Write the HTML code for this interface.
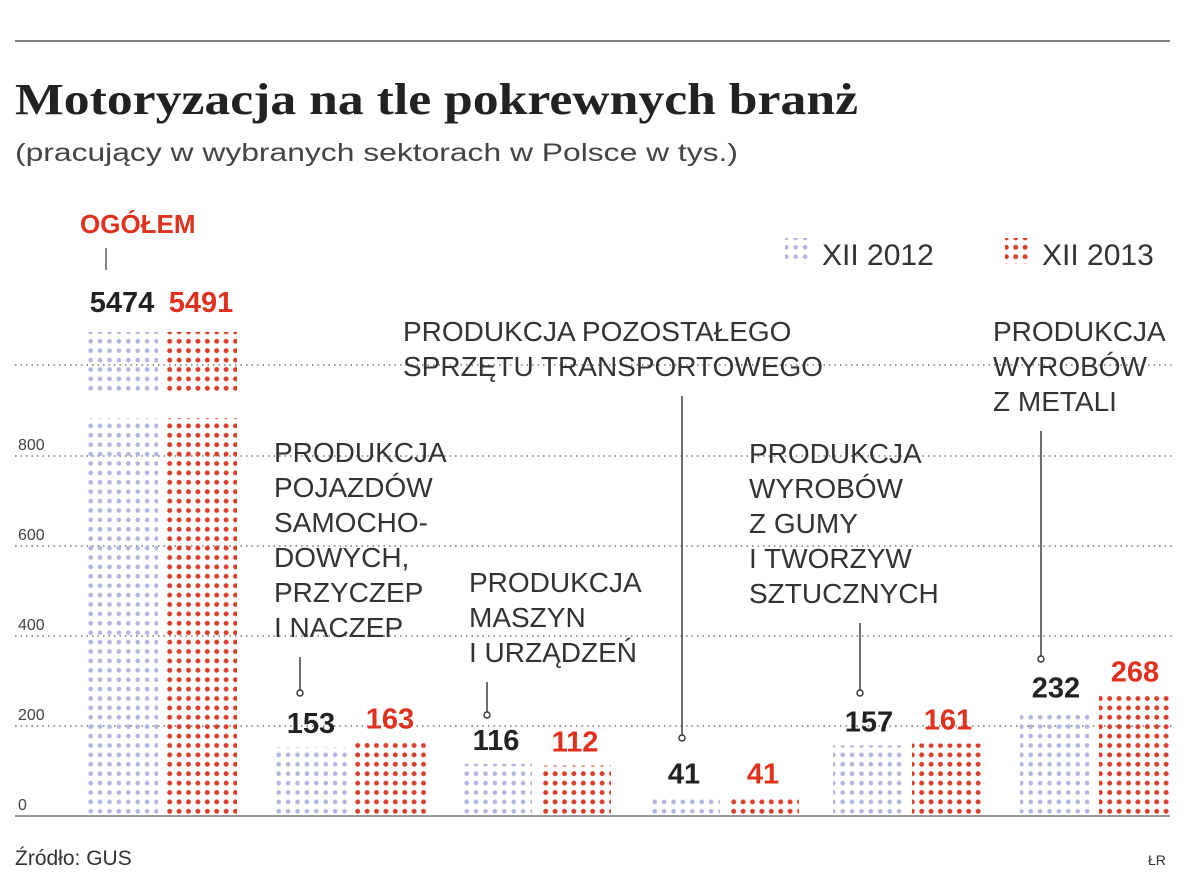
<!DOCTYPE html>
<html><head><meta charset="utf-8"><style>
body{margin:0;background:#fff;width:1200px;height:884px;overflow:hidden;font-family:"Liberation Sans",sans-serif;}
</style></head><body>
<svg width="1200" height="884" xmlns="http://www.w3.org/2000/svg" font-family="Liberation Sans, sans-serif">
<defs>
<pattern id="pb" width="9.4" height="9.4" patternUnits="userSpaceOnUse" x="86" y="816"><circle cx="4.7" cy="4.7" r="2.3" fill="#b0b6dc"/></pattern>
<pattern id="pr" width="9.4" height="9.4" patternUnits="userSpaceOnUse" x="165" y="816"><circle cx="4.7" cy="4.7" r="2.5" fill="#d9402c"/></pattern>
</defs>
<line x1="15" y1="41" x2="1170" y2="41" stroke="#555" stroke-width="1.5"/>
<text x="15" y="114" font-family="Liberation Serif, serif" font-weight="bold" font-size="44" fill="#222" textLength="843" lengthAdjust="spacingAndGlyphs">Motoryzacja na tle pokrewnych branż</text>
<text x="15" y="161" font-size="25" fill="#444" textLength="723" lengthAdjust="spacingAndGlyphs">(pracujący w wybranych sektorach w Polsce w tys.)</text>
<g>
<rect x="785" y="238" width="26" height="26" fill="url(#pb)"/>
<text x="822" y="265" font-size="30" fill="#333">XII 2012</text>
<rect x="1005" y="238" width="26" height="26" fill="url(#pr)"/>
<text x="1042" y="265" font-size="30" fill="#333">XII 2013</text>
</g>
<g id="grid"></g>
<g id="bars"></g>
<g id="labels"></g>
<line x1="15" y1="816" x2="1170" y2="816" stroke="#999" stroke-width="2"/>
<text x="15" y="865" font-size="21" fill="#333">Źródło: GUS</text>
<text x="1148" y="865" font-size="14" fill="#333">ŁR</text>
</svg>
<script>
const categories=["Ogółem","Pojazdy","Maszyny","Transport","Guma","Metale"];
const values2012=[5474,153,116,41,157,232];
const values2013=[5491,163,112,41,161,268];
const yTicks=[0,200,400,600,800];
const catNames=[
 [],
 ["PRODUKCJA","POJAZDÓW","SAMOCHO-","DOWYCH,","PRZYCZEP","I NACZEP"],
 ["PRODUKCJA","MASZYN","I URZĄDZEŃ"],
 ["PRODUKCJA POZOSTAŁEGO","SPRZĘTU TRANSPORTOWEGO"],
 ["PRODUKCJA","WYROBÓW","Z GUMY","I TWORZYW","SZTUCZNYCH"],
 ["PRODUKCJA","WYROBÓW","Z METALI"]
];
const NS="http://www.w3.org/2000/svg";
const y=v=>816-v*0.45;
const groupX=[86,275,460,648,833,1020];
const barW=72, gap=79;
function mk(tag,attrs,parent){const e=document.createElementNS(NS,tag);for(const k in attrs)e.setAttribute(k,attrs[k]);parent.appendChild(e);return e;}
const grid=document.getElementById('grid'),bars=document.getElementById('bars'),labels=document.getElementById('labels');
yTicks.forEach(t=>{
 if(t>0){const l=mk('line',{x1:15,x2:1175,y1:y(t),y2:y(t),stroke:'#777','stroke-width':1.5,'stroke-dasharray':'1.5 4'},grid);
 
 }
 const tx=mk('text',{x:18,y:y(t)-6,'font-size':16,fill:'#444'},grid);tx.textContent=t;
 
 
});
const br=mk('line',{x1:15,x2:1175,y1:365,y2:365,stroke:'#777','stroke-width':1.5,'stroke-dasharray':'1.5 4'},grid);


categories.forEach((c,i)=>{
 [values2012[i],values2013[i]].forEach((v,j)=>{
  const x=groupX[i]+j*gap;const fill=j?'url(#pr)':'url(#pb)';
  if(v>900){
   const r1=mk('rect',{x:x,y:418,width:barW,height:816-418,fill:fill},bars);
   
   
   const r2=mk('rect',{x:x,y:332,width:barW,height:60,fill:fill},bars);
   
   
   const t=mk('text',{x:x+barW/2,y:312,'font-size':29,'font-weight':'bold','text-anchor':'middle',fill:j?'#e0301e':'#222'},labels);t.textContent=v;
   
   
  } else {
   const r=mk('rect',{x:x,y:y(v),width:barW,height:816-y(v),fill:fill},bars);
   
   
   const t=mk('text',{x:x+barW/2,y:y(v)-14,'font-size':29,'font-weight':'bold','text-anchor':'middle',fill:j?'#e0301e':'#222'},labels);t.textContent=v;
   
   
  }
 });
});
const og=mk('text',{x:80,y:233,'font-size':26,'font-weight':'bold',fill:'#e0301e'},labels);og.textContent='OGÓŁEM';


mk('line',{x1:106,x2:106,y1:248,y2:270,stroke:'#333','stroke-width':1.2},labels);
const pos=[null,[274,462,300,693],[469,592,487,715],[403,341,682,738],[749,463,860,693],[993,341,1041,659]];
for(let i=1;i<6;i++){
 const [lx,ly,px,py]=pos[i];
 catNames[i].forEach((s,k)=>{const t=mk('text',{x:lx,y:ly+k*35,'font-size':28,fill:'#333'},labels);t.textContent=s;
  
  });
 const top=ly+(catNames[i].length-1)*35+20;
 const l=mk('line',{x1:px,x2:px,y1:top,y2:py,stroke:'#333','stroke-width':1.4},labels);
 
 
 mk('circle',{cx:px,cy:py,r:3,fill:'#fff',stroke:'#333','stroke-width':1.4},labels);
}
</script>
</body></html>
